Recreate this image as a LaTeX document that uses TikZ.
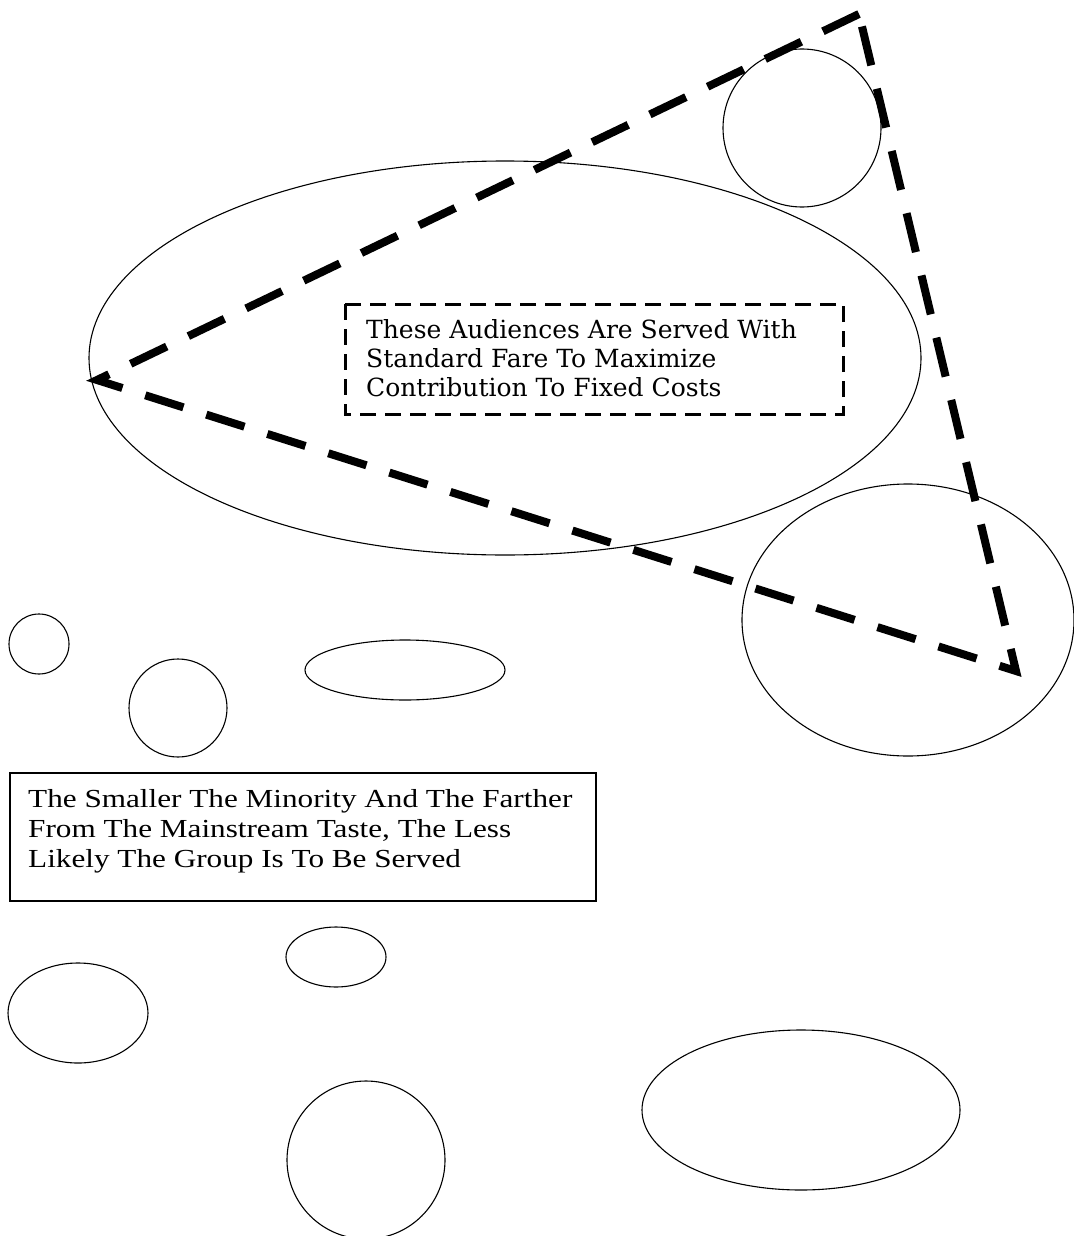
\documentclass[tikz,border=0pt]{standalone}
\usepackage{fontspec}
\setmainfont{DejaVu Serif}
\newfontfamily\boxtwofont[FakeStretch=1.2]{Liberation Serif}
\begin{document}
\begin{tikzpicture}[x=1pt,y=-1pt,
  shape line/.style={draw=black,line width=1.1pt},
  tri line/.style={draw=black,line width=8pt,dash pattern=on 40pt off 24pt,line join=miter,line cap=butt},
  dbox/.style={draw=black,line width=3pt,dash pattern=on 16pt off 9pt},
  sbox/.style={draw=black,line width=1.1pt}]
\useasboundingbox (0,0) rectangle (1073,1236);
% shapes
\draw[shape line] (505,358) ellipse [x radius=416,y radius=197];
\draw[shape line] (802,128) circle [radius=79];
\draw[shape line] (908,620) ellipse [x radius=166,y radius=136];
\draw[shape line] (39,644) circle [radius=30];
\draw[shape line] (178,708) circle [radius=49];
\draw[shape line] (405,670) ellipse [x radius=100,y radius=30];
\draw[shape line] (336,957) ellipse [x radius=50,y radius=30];
\draw[shape line] (78,1013) ellipse [x radius=70,y radius=50];
\draw[shape line] (366,1160) circle [radius=79];
\draw[shape line] (801,1110) ellipse [x radius=159,y radius=80];
% triangle
\coordinate (A) at (859,14);
\coordinate (B) at (97,380);
\coordinate (C) at (1016,671);
\draw[tri line] (A) -- (B) -- (C) -- cycle;
% boxes
\draw[dbox] (345,304) rectangle (843,414);
\node[anchor=north west,align=left,inner sep=0pt,font=\fontsize{25}{29}\selectfont] (t1) at (366,319)
 {These Audiences Are Served With\\Standard Fare To Maximize\\Contribution To Fixed Costs};
\draw[sbox] (10,773) rectangle (596,901);
\node[anchor=north west,align=left,inner sep=0pt,font=\boxtwofont\fontsize{26}{30}\selectfont] (t2) at (28,789)
 {The Smaller The Minority And The Farther\\From The Mainstream Taste, The Less\\Likely The Group Is To Be Served};
\end{tikzpicture}
\end{document}
